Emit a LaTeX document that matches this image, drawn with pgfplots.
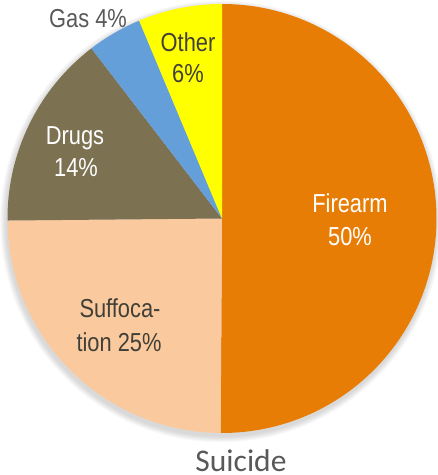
\documentclass[border=0pt]{standalone}
\usepackage{pgfplots}
\pgfplotsset{compat=1.18}
\usepackage{pgfplotstable}
\usepackage{fontspec}
\setmainfont{Liberation Sans}
\newfontfamily\lab[FakeStretch=0.84]{Liberation Sans}
\newfontfamily\ttl{Carlito}

\definecolor{cfire}{RGB}{232,125,6}
\definecolor{csuff}{RGB}{250,202,158}
\definecolor{cdrug}{RGB}{124,113,80}
\definecolor{cgas}{RGB}{101,159,218}
\definecolor{coth}{RGB}{255,255,0}
\definecolor{ctxt}{RGB}{64,64,56}
\definecolor{cgray}{RGB}{89,89,89}

% shares of suicides by method, clockwise from the top
\pgfplotstableread{
label pct
Firearm 50.0
Suffocation 24.7
Drugs 14.7
Gas 4.1
Other 6.3
}\piedata

\def\total{0}
\pgfplotsforeachungrouped \i in {0,...,4}{%
  \pgfplotstablegetelem{\i}{pct}\of\piedata
  \pgfmathsetmacro\total{\total+\pgfplotsretval}}
\def\acc{90}
\pgfplotsforeachungrouped \i in {0,...,4}{%
  \pgfplotstablegetelem{\i}{pct}\of\piedata
  \pgfmathsetmacro\nxt{\acc-\pgfplotsretval/\total*360}%
  \expandafter\xdef\csname s\i\endcsname{\acc}%
  \expandafter\xdef\csname e\i\endcsname{\nxt}%
  \let\acc\nxt}

\def\cx{222}\def\cy{256.5}\def\rr{214.5pt}
\newcommand\slice[2]{%
  \fill[#2] (axis cs:\cx,\cy) -- ++(\csname s#1\endcsname:\rr)
    arc[start angle=\csname s#1\endcsname, end angle=\csname e#1\endcsname, radius=\rr] -- cycle;}

\tikzset{lbl/.style={inner sep=0pt, anchor=base, font=\lab\fontsize{26}{31}\selectfont}}

\begin{document}
\begin{tikzpicture}
\useasboundingbox (0,0) rectangle (438pt,475pt);
\begin{axis}[
    at={(0,0)}, anchor=origin,
    x=1pt, y=1pt,
    xmin=0, xmax=438, ymin=0, ymax=475,
    hide axis, clip=false,
  ]
  % soft shadow
  \pgfplotsinvokeforeach{1,...,8}{
    \fill[black, opacity=0.02] (axis cs:\cx-1,\cy-3) circle[radius=214.5pt+#1*0.8pt];
  }
  \slice{0}{cfire}
  \slice{1}{csuff}
  \slice{2}{cdrug}
  \slice{3}{cgas}
  \slice{4}{coth}

  \node[lbl, text=white] at (axis cs:350,262) {Firearm};
  \node[lbl, text=white] at (axis cs:350,229) {50\%};
  \node[lbl, text=ctxt] at (axis cs:120,157) {Suffoca-};
  \node[lbl, text=ctxt] at (axis cs:119,123) {tion 25\%};
  \node[lbl, text=white] at (axis cs:75,330) {Drugs};
  \node[lbl, text=white] at (axis cs:76,298) {14\%};
  \node[lbl, text=ctxt] at (axis cs:188,423) {Other};
  \node[lbl, text=ctxt] at (axis cs:188,392) {6\%};
  \node[lbl, text=cgray] at (axis cs:88,447) {Gas 4\%};

  \node[inner sep=0pt, anchor=base, text=cgray, font=\ttl\fontsize{31.5}{36}\selectfont] at (axis cs:241,3) {Suicide};
\end{axis}
\end{tikzpicture}
\end{document}
